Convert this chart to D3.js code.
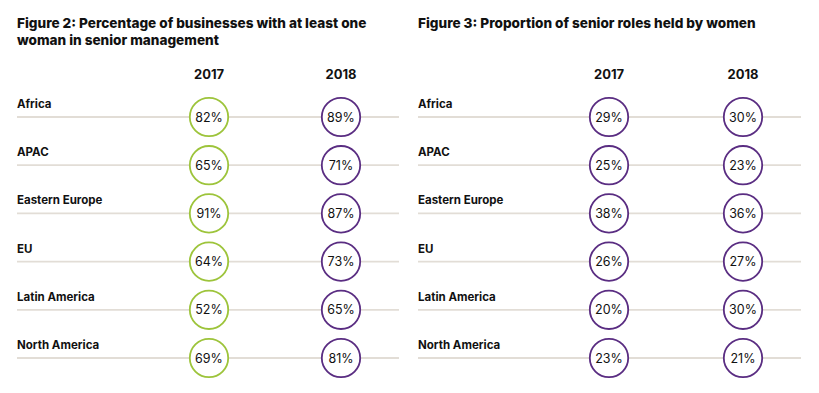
<!DOCTYPE html>
<html><head><meta charset="utf-8">
<script src="https://cdn.jsdelivr.net/npm/d3@7/dist/d3.min.js"></script>
<style>body{margin:0;background:#fff;}svg{display:block;font-family:Inter, "Noto Sans", sans-serif;}</style>
</head><body>
<svg id="c" width="819" height="393"></svg>
<script>
const regions = ["Africa","APAC","Eastern Europe","EU","Latin America","North America"];
const years = ["2017","2018"];
const fig2_2017 = [82,65,91,64,52,69];
const fig2_2018 = [89,71,87,73,65,81];
const fig3_2017 = [29,25,38,26,20,23];
const fig3_2018 = [30,23,36,27,30,21];
const title2 = ["Figure 2: Percentage of businesses with at least one","woman in senior management"];
const title3 = ["Figure 3: Proportion of senior roles held by women"];

const svg = d3.select("#c");
const green = "#9DC43B", purple = "#5A2D82", lineCol = "#E2DDD6", textCol = "#111";

const y = d3.scalePoint().domain(regions).range([117, 358]);

function panel(x0, x1, xc, titleLines, titleSize, s2017, s2018, c2017, c2018){
  const g = svg.append("g");
  const x = d3.scalePoint().domain(years).range(xc);
  g.selectAll("text.t").data(titleLines).join("text")
    .attr("x", x0).attr("y",(d,i)=>28+i*17)
    .attr("font-size",titleSize).attr("font-weight",800).attr("fill",textCol).text(d=>d);
  g.selectAll("text.yr").data(years).join("text")
    .attr("x", d=>x(d)).attr("y",79).attr("text-anchor","middle")
    .attr("font-size",13).attr("font-weight",700).attr("fill",textCol).text(d=>d);
  const rows = g.selectAll("g.row").data(regions.map((r,i)=>({r, v:[s2017[i], s2018[i]]}))).join("g");
  rows.append("line").attr("x1",x0).attr("x2",x1)
    .attr("y1",d=>y(d.r)).attr("y2",d=>y(d.r)).attr("stroke",lineCol).attr("stroke-width",1.8);
  rows.append("text").attr("x",x0).attr("y",d=>y(d.r)-9)
    .attr("font-size",11.5).attr("font-weight",700).attr("fill",textCol).text(d=>d.r);
  years.forEach((yr,j)=>{
    const col = j===0 ? c2017 : c2018;
    rows.append("circle").attr("cx",x(yr)).attr("cy",d=>y(d.r)).attr("r",19.2)
      .attr("fill","#fff").attr("stroke",col).attr("stroke-width",1.8);
    rows.append("text").attr("x",x(yr)).attr("y",d=>y(d.r)+4.5).attr("text-anchor","middle")
      .attr("font-size",12.5).attr("fill",textCol).text(d=>d.v[j]+"%");
  });
}
panel(17, 399, [209, 341], title2, 13.6, fig2_2017, fig2_2018, green, purple);
panel(418, 801, [609, 743], title3, 13.6, fig3_2017, fig3_2018, purple, purple);
</script>
</body></html>
